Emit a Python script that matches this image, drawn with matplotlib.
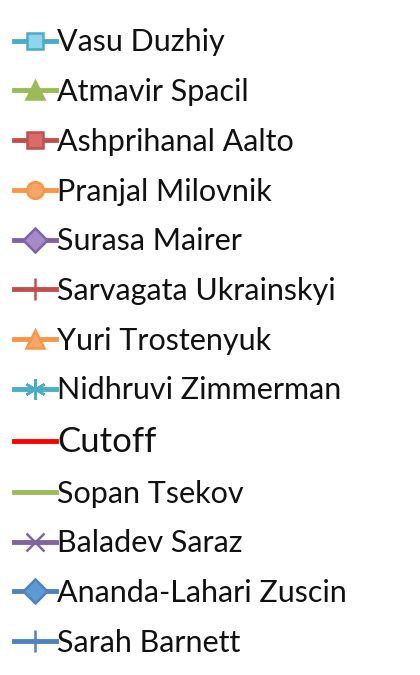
import matplotlib
matplotlib.use("Agg")
import matplotlib.pyplot as plt
from matplotlib.lines import Line2D

plt.rcParams["font.family"] = ["Lato", "DejaVu Sans"]

# legend entries
names = ["Vasu Duzhiy", "Atmavir Spacil", "Ashprihanal Aalto", "Pranjal Milovnik",
         "Surasa Mairer", "Sarvagata Ukrainskyi", "Yuri Trostenyuk", "Nidhruvi Zimmerman",
         "Cutoff", "Sopan Tsekov", "Baladev Saraz", "Ananda-Lahari Zuscin", "Sarah Barnett"]

# style per entry
colors = ["#4bacc6", "#9bbb59", "#c0504d", "#f79646", "#8064a2", "#c0504d", "#f79646",
          "#4bacc6", "#ff0000", "#9bbb59", "#8064a2", "#4f81bd", "#4f81bd"]
faces = ["#8fd6ea", "#9bbb59", "#d96b68", "#f9a66a", "#a58bc7", "#c0504d", "#f9a66a",
         "#4bacc6", "#ff0000", "#9bbb59", "#8064a2", "#5b9bd5", "#4f81bd"]
markers = ["s", "^", "s", "o", "D", "|", "^", (6, 2, 0), None, None, "x", "D", "|"]
big = {"|": 16, "x": 13, "^": 13}

fig = plt.figure(figsize=(4.2, 6.75), dpi=100)
ax = fig.add_axes([0, 0, 1, 1])
ax.axis("off")

handles = []
for c, fc, m in zip(colors, faces, markers):
    ms = big.get(m, 12) if isinstance(m, str) else 15
    h = Line2D([], [], color=c, lw=3.5, marker=m, markersize=ms,
               markerfacecolor=fc, markeredgecolor=c, markeredgewidth=1.8)
    handles.append(h)

leg = ax.legend(handles, names, loc="upper left", bbox_to_anchor=(0.005, 0.976),
                frameon=False, fontsize=22, handlelength=1.35, handletextpad=0.05,
                labelspacing=0.71, borderaxespad=0)
for t in leg.get_texts():
    t.set_color("#111111")
    if t.get_text() == "Cutoff":
        t.set_fontsize(25)

fig.savefig("out.png", dpi=100)
